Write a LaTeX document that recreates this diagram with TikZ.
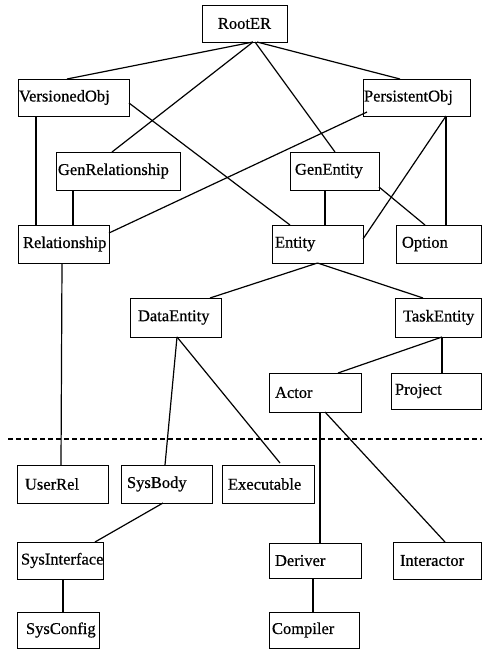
\documentclass[tikz,border=0pt]{standalone}
\usepackage{fontspec}
\setmainfont{Liberation Serif}
\newfontfamily\scanfont{Liberation Serif}[FakeBold=0.6]
\tikzset{
  box/.style={draw, rectangle, line width=1pt, inner ysep=0pt, outer sep=0pt, align=left,
    font=\scanfont\fontsize{16.5}{18}\selectfont},
  link/.style={line width=1.2pt},
  divider/.style={line width=1.2pt, dash pattern=on 5pt off 3pt}
}
% name, cx, cy, W, H, pad, textwidth, text
\newcommand\bx[8]{\node[box, minimum width=#4pt, minimum height=#5pt, inner xsep=#6pt, text width=#7pt] (#1) at (#2,#3) {#8};}
\begin{document}
\begin{tikzpicture}[x=1pt,y=-1pt]
\useasboundingbox (0,0) rectangle (482,649);
\node[box, align=center, minimum width=85pt, minimum height=37pt, inner xsep=2.5pt, text width=80pt] (RootER) at (244.5,23.5) {RootER};
\bx{VersionedObj}{73.5}{97.5}{111}{37}{1}{109}{VersionedObj}
\bx{PersistentObj}{416.5}{97.5}{107}{37}{1}{105}{PersistentObj}
\bx{GenRelationship}{118}{171}{124}{38}{2}{120}{GenRelationship}
\bx{GenEntity}{334.5}{171}{89}{38}{5}{79}{GenEntity}
\bx{Relationship}{63.5}{244}{91}{38}{5}{81}{Relationship}
\bx{Entity}{317.5}{244}{91}{38}{3}{85}{Entity}
\bx{Option}{438.5}{244}{85}{38}{6}{73}{Option}
\bx{DataEntity}{175.5}{317.5}{91}{39}{8}{75}{DataEntity}
\bx{TaskEntity}{438}{317.5}{86}{39}{8}{70}{TaskEntity}
\bx{Actor}{315}{392.5}{92}{39}{6}{80}{Actor}
\bx{Project}{436}{391}{90}{36}{4}{82}{Project}
\bx{UserRel}{62.5}{484}{91}{38}{8}{75}{UserRel}
\bx{SysBody}{166.5}{484}{91}{38}{6}{79}{SysBody}
\bx{Executable}{268}{484}{92}{38}{6}{80}{Executable}
\bx{SysInterface}{60}{560.5}{86}{37}{4}{78}{SysInterface}
\bx{Deriver}{315}{560.5}{92}{35}{6}{80}{Deriver}
\bx{Interactor}{437}{560.5}{88}{37}{7}{74}{Interactor}
\bx{SysConfig}{58}{630}{82}{36}{9}{64}{SysConfig}
\bx{Compiler}{314}{630}{90}{36}{3}{84}{Compiler}

\coordinate (dashL) at (8,439);
\coordinate (dashR) at (482,439);
\draw[divider] (dashL) -- (dashR);

\draw[link] ([xshift=8.5pt]RootER.south) -- ([xshift=-6.5pt]VersionedObj.north);
\draw[link] ([xshift=8.5pt]RootER.south) -- ([xshift=-6pt]GenRelationship.north);
\draw[link] ([xshift=10.5pt]RootER.south) -- ([xshift=0.5pt]GenEntity.north);
\draw[link] ([xshift=12.5pt]RootER.south) -- ([xshift=-16.5pt]PersistentObj.north);
\draw[link] ([yshift=-5.5pt]VersionedObj.east) -- ([xshift=-27.5pt]Entity.north);
\draw[link] ([xshift=-37.5pt]VersionedObj.south) -- ([xshift=-27.5pt]Relationship.north);
\draw[link] ([xshift=-45pt]GenRelationship.south) -- ([xshift=9.5pt]Relationship.north);
\draw[link] ([xshift=4pt,yshift=4pt]PersistentObj.south west) -- ([yshift=11pt]Relationship.east);
\draw[link] ([xshift=-9.5pt]GenEntity.south) -- ([xshift=7.5pt]Entity.north);
\draw[link] ([yshift=3pt]GenEntity.south east) -- ([xshift=-13.5pt]Option.north);
\draw[link] ([xshift=29.5pt]PersistentObj.south) -- ([yshift=5pt]Entity.east);
\draw[link] ([xshift=29.5pt]PersistentObj.south) -- ([xshift=7.5pt]Option.north);
\draw[link] (Entity.south) -- ([xshift=34.5pt]DataEntity.north);
\draw[link] (Entity.south) -- ([xshift=-15pt]TaskEntity.north);
\draw[link] ([xshift=1.5pt]DataEntity.south) -- ([xshift=-1.5pt]SysBody.north);
\draw[link] ([xshift=1.5pt]DataEntity.south) -- ([xshift=12pt,yshift=2pt]Executable.north);
\draw[link] ([xshift=4pt]TaskEntity.south) -- ([xshift=23pt]Actor.north);
\draw[link] ([xshift=4pt]TaskEntity.south) -- ([xshift=6pt]Project.north);
\draw[link] ([xshift=5pt]Actor.south) -- ([xshift=5pt]Deriver.north);
\draw[link] ([xshift=10pt]Actor.south) -- ([xshift=8pt]Interactor.north);
\draw[link] ([xshift=-1.5pt]Relationship.south) -- ([xshift=-1.5pt]UserRel.north);
\draw[link] ([xshift=-3.5pt]SysBody.south) -- ([xshift=35pt]SysInterface.north);
\draw[link] ([xshift=3pt]SysInterface.south) -- ([xshift=5pt]SysConfig.north);
\draw[link] ([xshift=-2pt]Deriver.south) -- ([xshift=-1pt]Compiler.north);
\end{tikzpicture}
\end{document}
